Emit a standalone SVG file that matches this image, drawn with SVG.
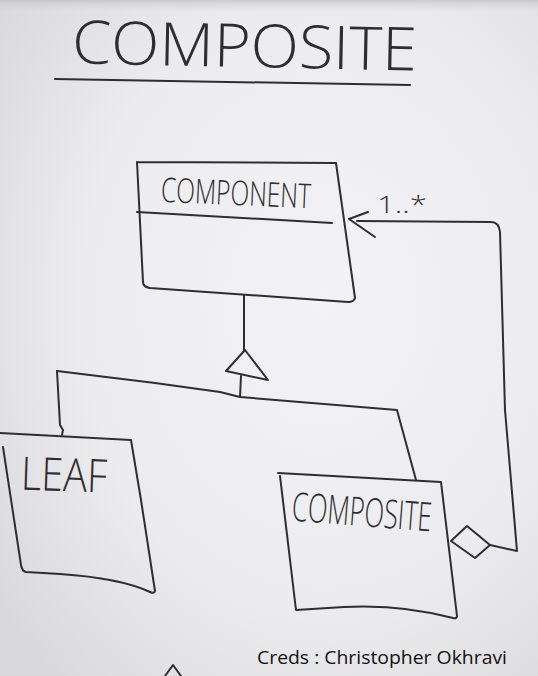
<svg xmlns="http://www.w3.org/2000/svg" width="538" height="676" viewBox="0 0 538 676">
  <defs>
    <radialGradient id="board" cx="0.6" cy="0.45" r="0.75">
      <stop offset="0" stop-color="#f3f3f5"/>
      <stop offset="0.6" stop-color="#ececee"/>
      <stop offset="1" stop-color="#d9d9db"/>
    </radialGradient>
    <linearGradient id="topShade" x1="0" y1="0" x2="0" y2="1">
      <stop offset="0" stop-color="#bdbdc0" stop-opacity="0.7"/>
      <stop offset="1" stop-color="#e6e6e8" stop-opacity="0"/>
    </linearGradient>
    <style>
      .ink { fill: none; stroke: #2e2e30; stroke-width: 2; stroke-linejoin: round; stroke-linecap: round; }
      .hand { font-family: "Open Sans", "Liberation Sans", sans-serif; font-weight: 300; fill: #2e2e30; }
      .credit { font-family: "Open Sans", "Liberation Sans", sans-serif; font-size: 19px; fill: #111; }
    </style>
  </defs>

  <rect x="0" y="0" width="538" height="676" fill="url(#board)"/>
  <rect x="0" y="0" width="538" height="14" fill="url(#topShade)"/>

  <g id="title">
    <text class="hand" x="72" y="67" font-size="60" textLength="345" lengthAdjust="spacingAndGlyphs" transform="rotate(1.2 245 50)">COMPOSITE</text>
    <path class="ink" d="M55,79 C180,80 300,83 410,85" stroke-width="1.8"/>
  </g>

  <g id="component">
    <path class="ink" d="M137,162 L336,163 L355,298 Q354,302 348,302 L150,288 Q143,287 143,282 L137,162"/>
    <path class="ink" d="M137,212 L332,223"/>
    <text class="hand" x="161" y="205" font-size="34" textLength="150" lengthAdjust="spacingAndGlyphs" transform="rotate(2.5 235 192)">COMPONENT</text>
  </g>

  <g id="leaf">
    <path class="ink" d="M0,433 L131,440 L141,500 L155,591 Q154,594 150,592 Q120,578 60,574 L26,572 Q22,571 21,565 L3,447"/>
    <text class="hand" x="21" y="491" font-size="46" textLength="86" lengthAdjust="spacingAndGlyphs" transform="rotate(2 64 474)">LEAF</text>
  </g>

  <g id="composite">
    <path class="ink" d="M278,473 L441,482 L457,616 Q457,619 453,618 Q400,604 344,607 L296,610 L280,476"/>
    <text class="hand" x="292" y="526" font-size="40" textLength="140" lengthAdjust="spacingAndGlyphs" transform="rotate(4.5 362 512)">COMPOSITE</text>
  </g>

  <g id="connectors">
    <!-- generalization -->
    <path class="ink" d="M244,295 L244,350"/>
    <path class="ink" d="M245,350 L226,371 L268,380 Z"/>
    <path class="ink" d="M241,376 L240,397"/>
    <path class="ink" d="M57,371 L155,383 L220,392 L240,397 L397,410 L416,480"/>
    <path class="ink" d="M57,371 L60,425 L63,430 L62,435"/>
    <!-- aggregation -->
    <path class="ink" d="M451,541 L467,526 L490,545 L475,558 Z"/>
    <path class="ink" d="M490,545 L517,551 L505,410 L500,232 Q499,222 491,222 L357,221"/>
    <path class="ink" d="M368,212 L349,219 L375,237"/>
    <text class="hand" x="377" y="213" font-size="24" textLength="50" lengthAdjust="spacingAndGlyphs">1..*</text>
    <path class="ink" d="M165,676 L173,665 L181,676"/>
  </g>

  <g id="credits">
    <text class="credit" x="257" y="664" textLength="250" lengthAdjust="spacingAndGlyphs">Creds : Christopher Okhravi</text>
  </g>
</svg>
